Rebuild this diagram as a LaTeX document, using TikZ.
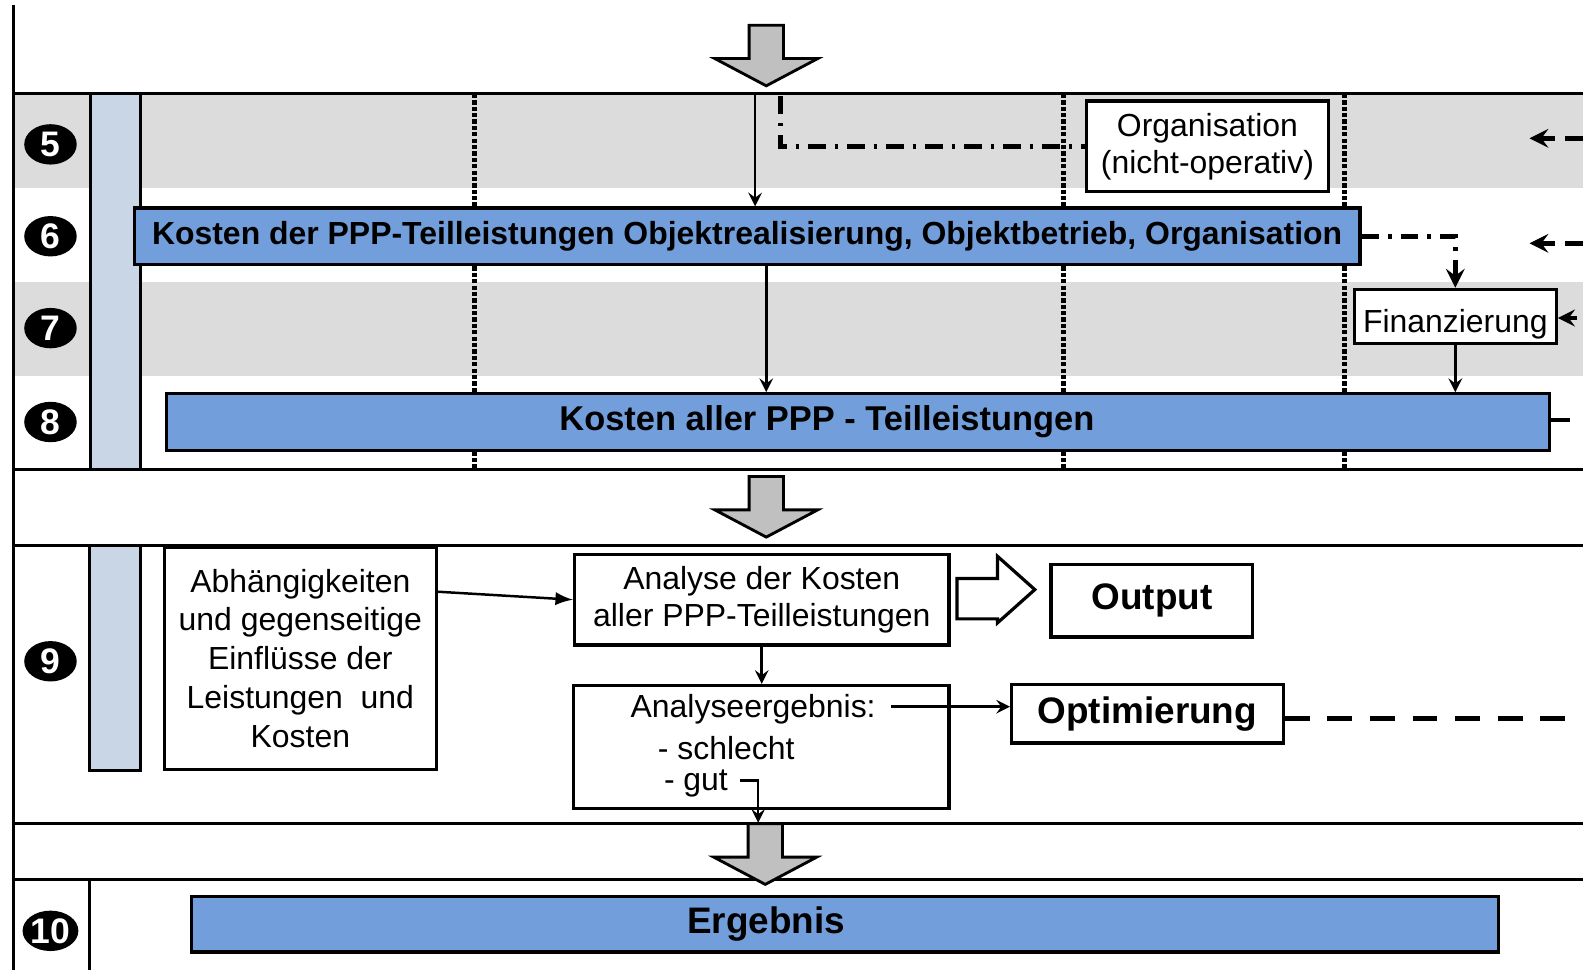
\documentclass[tikz,border=0pt]{standalone}
\usepackage{fontspec}
\setmainfont{Liberation Sans}
\usetikzlibrary{shapes.geometric,positioning}
\definecolor{bandgray}{RGB}{220,220,220}
\definecolor{colblue}{RGB}{200,214,230}
\definecolor{boxblue}{RGB}{114,159,219}
\definecolor{arrgray}{RGB}{192,192,192}

\begin{document}
\begin{tikzpicture}[
	numbadge/.style={ellipse, fill=black, text=white, inner sep=0pt,
		minimum width=0.52cm, minimum height=0.40cm,
		font=\bfseries\fontsize{10}{10}\selectfont},
	bluebox/.style={draw, line width=0.9pt, fill=boxblue},
	whitebox/.style={draw, line width=0.9pt, fill=white, align=center,
		font=\fontsize{9}{10.5}\selectfont},
	sepline/.style={line width=0.8pt},
	conn/.style={line width=0.7pt},
	laneline/.style={line width=1.4pt, dash pattern=on 1.2pt off 0.6pt},
	dashdot/.style={line width=1.3pt, dash pattern=on 5pt off 2.5pt on 1pt off 2.5pt},
	grayarrow/.style={draw, line width=0.8pt, fill=arrgray},
]
\useasboundingbox (0,0) rectangle (15.68,-9.61);

%Bands
\fill[bandgray] (0.13,-0.93) rectangle (15.68,-1.86);
\fill[bandgray] (0.13,-2.79) rectangle (15.68,-3.72);
\draw[sepline, fill=colblue] (0.90,-0.93) rectangle (1.39,-4.65);
\draw[sepline, fill=colblue] (0.89,-5.40) rectangle (1.39,-7.63);

%Frame
\draw[sepline] (0.13,-0.05) -- (0.13,-9.61);
\foreach \y in {0.93,4.65,5.40,8.16,8.71}
	\draw[sepline] (0.13,-\y) -- (15.68,-\y);
\draw[sepline] (0.89,-8.71) -- (0.89,-9.61);
\foreach \x in {4.70,10.53,13.32}
	\draw[laneline] (\x,-0.93) -- (\x,-4.65);

%Numbers
\foreach \n/\y in {5/1.43,6/2.34,7/3.25,8/4.18,9/6.55,10/9.22}
	\node[numbadge] (num\n) at (0.50,-\y) {\n};

%Block arrows
\foreach \x/\y in {7.59/0.25,7.59/4.72,7.58/8.16}
	\draw[grayarrow] (\x-0.17,-\y) -- ++(0.34,0) -- ++(0,-0.33) -- ++(0.34,0)
		-- (\x,-\y-0.60) -- (\x-0.51,-\y-0.33) -- ++(0.34,0) -- cycle;

%Cost boxes
\node [bluebox,
	minimum width=12.14cm,
	minimum height=0.56cm,
]  (kosten6) at (7.40,-2.34) {};
\node []  (kosten6text) at (7.40,-2.34) {\bfseries\fontsize{9}{9}\selectfont Kosten der PPP-Teilleistungen Objektrealisierung, Objektbetrieb, Organisation};

\node [bluebox,
	minimum width=13.70cm,
	minimum height=0.56cm,
]  (kosten8) at (8.50,-4.18) {};
\node []  (kosten8text) at (8.19,-4.18) {\bfseries\fontsize{9.7}{9.7}\selectfont Kosten aller PPP - Teilleistungen};

\node [whitebox, minimum width=2.40cm, minimum height=0.75cm]  (orgbox) at (11.96,-1.45) {Organisation\\(nicht-operativ)};
\node [whitebox, minimum width=2.00cm, minimum height=0.54cm]  (finbox) at (14.415,-3.135) {};
\node []  (fintext) at (14.415,-3.21) {\fontsize{9}{9}\selectfont Finanzierung};

%Top connectors
\coordinate (topin) at (7.48,-0.93);
\draw[conn, -stealth] (topin) -- (topin |- kosten6.north);
\coordinate (orgin) at (7.73,-0.95);
\draw[dashdot] (orgin) |- (orgbox.west);
\coordinate (k6out) at (7.59,-2.62);
\draw[conn, -stealth] (k6out) -- (k6out |- kosten8.north);
\draw[dashdot, -stealth] (kosten6.east) -| (finbox.north);
\draw[conn, -stealth] (finbox.south) -- (finbox.south |- kosten8.north);

%Right edge
\coordinate (r1) at (15.68,-1.37);
\coordinate (r1end) at (15.15,-1.37);
\draw[line width=1.3pt, dash pattern=on 5pt off 3pt, -stealth] (r1) -- (r1end);
\coordinate (r2) at (15.68,-2.41);
\coordinate (r2end) at (15.15,-2.41);
\draw[line width=1.3pt, dash pattern=on 5pt off 3pt, -stealth] (r2) -- (r2end);
\coordinate (r3) at (15.62,-3.15);
\draw[line width=1.1pt, -stealth] (r3) -- (r3 -| finbox.east);
\coordinate (r4) at (15.55,-4.16);
\draw[line width=1.1pt] (kosten8.east |- r4) -- (r4);

%Analysis
\node [whitebox, minimum width=2.69cm, minimum height=2.20cm,
	font=\fontsize{9}{10.9}\selectfont]  (abhbox) at (2.975,-6.52) {Abhängigkeiten\\und gegenseitige\\Einflüsse der\\Leistungen\ \ und\\Kosten};
\node [whitebox, minimum width=3.71cm, minimum height=0.72cm]  (anabox) at (7.545,-5.94) {Analyse der Kosten\\aller PPP-Teilleistungen};
\node [whitebox, minimum width=2.00cm, minimum height=0.72cm, font=\bfseries\fontsize{10.4}{10.4}\selectfont]  (outbox) at (11.41,-5.95) {Output};
\node [whitebox, minimum width=3.72cm, minimum height=1.22cm]  (erg9box) at (7.54,-7.40) {};
\node []  (erg9text) at (7.46,-7.03) {\fontsize{9}{9}\selectfont Analyseergebnis:};
\node [anchor=west, inner sep=0pt]  (schlechttext) at (6.51,-7.41) {\fontsize{9}{9}\selectfont - schlecht};
\node [anchor=west, inner sep=0pt]  (guttext) at (6.57,-7.76) {\fontsize{9}{9}\selectfont - gut};
\node [whitebox, minimum width=2.69cm, minimum height=0.58cm, font=\bfseries\fontsize{10.4}{10.4}\selectfont]  (optbox) at (11.365,-7.07) {Optimierung};

%Hollow arrow
\draw[line width=0.9pt, fill=white] (9.48,-5.73) -- (9.88,-5.73) -- (9.88,-5.51) -- (10.25,-5.84)
	-- (9.88,-6.17) -- (9.88,-6.13) -- (9.48,-6.13) -- cycle;

\coordinate (abhout) at (4.32,-5.86);
\draw[conn, -latex] (abhout) -- (anabox.west);
\draw[conn, -stealth] (anabox.south) -- (anabox.south |- erg9box.north);
\coordinate (ergout) at (8.83,-7.00);
\draw[conn, -stealth] (ergout) -- (ergout -| optbox.west);
\coordinate (optend) at (15.68,-7.12);
\draw[line width=1.4pt, dash pattern=on 7pt off 5pt] (optbox.east |- optend) -- (optend);
\coordinate (gutout) at (7.33,-7.73);
\coordinate (gutin) at (7.51,-8.15);
\draw[conn, -stealth] (gutout) -| (gutin);

%Result
\node [bluebox,
	minimum width=12.94cm,
	minimum height=0.55cm,
]  (ergbox) at (8.37,-9.155) {};
\node []  (ergtext) at (7.59,-9.155) {\bfseries\fontsize{10.4}{10.4}\selectfont Ergebnis};

\end{tikzpicture}
\end{document}
